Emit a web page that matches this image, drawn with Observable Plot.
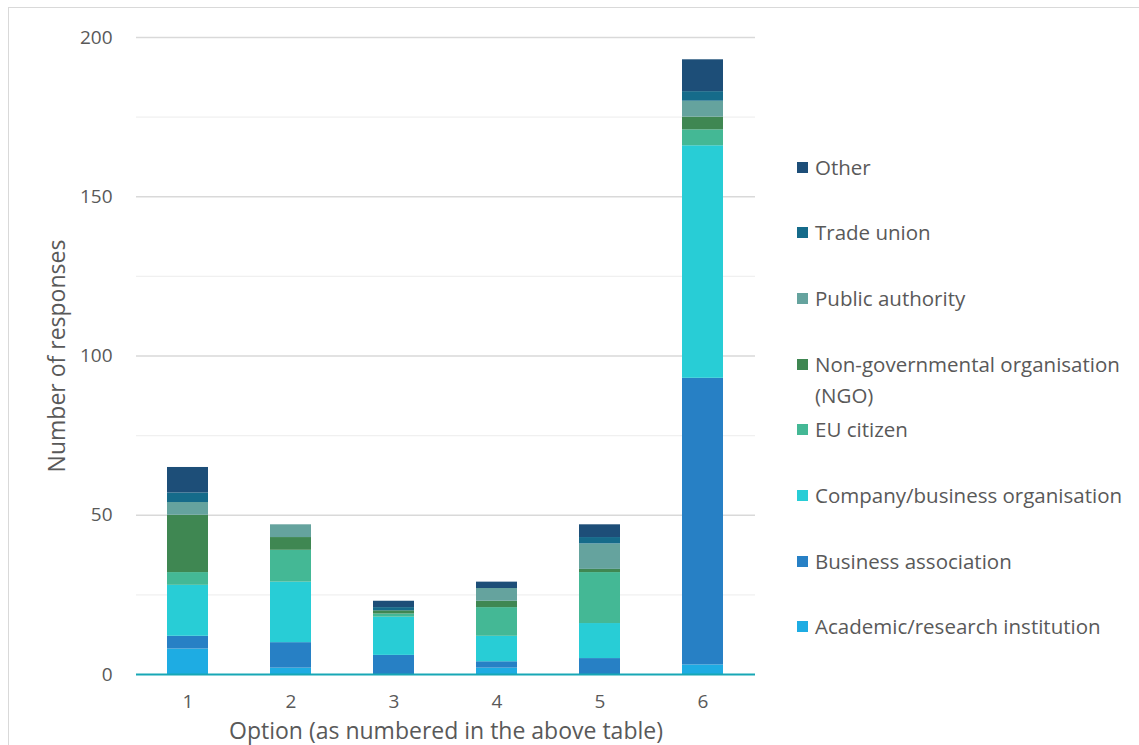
<!DOCTYPE html>
<html><head><meta charset="utf-8">
<script src="https://cdn.jsdelivr.net/npm/d3@7"></script>
<script src="https://cdn.jsdelivr.net/npm/@observablehq/plot@0.6"></script>
<style>
body{margin:0;background:#fff;font-family:"Open Sans",sans-serif;}
#wrap{position:relative;width:1139px;height:745px;overflow:hidden;background:#fff}
#frame{position:absolute;left:8px;top:7px;width:1140px;height:760px;border:1px solid #d9d9d9;box-sizing:border-box}
#chart{position:absolute;left:0;top:0}
#legend{position:absolute;left:797px;top:0;width:340px;height:745px}
.item{position:absolute;left:0;white-space:nowrap;color:#595959;font-size:20.5px;line-height:31px;display:flex;align-items:flex-start}
.sw{width:11px;height:11px;margin-right:7px;margin-top:10px;flex:none}
</style></head>
<body><div id="wrap"><div id="frame"></div><div id="chart"></div><div id="legend"></div></div>
<script>
const options = ["1","2","3","4","5","6"];
const categories = ["Academic/research institution","Business association","Company/business organisation","EU citizen","Non-governmental organisation (NGO)","Public authority","Trade union","Other"];
const colors = ["#1eace3","#2780c5","#28cdd6","#44b895","#3f8752","#65a39e","#156b8a","#1d4e78"];
const academic = [8,2,0,2,0,3];
const business = [4,8,6,2,5,90];
const company = [16,19,12,8,11,73];
const euCitizen = [4,10,1,9,16,5];
const ngo = [18,4,1,2,1,4];
const publicAuthority = [4,4,0,4,8,5];
const tradeUnion = [3,0,1,0,2,3];
const other = [8,0,2,2,4,10];
const majorTicks = [0,50,100,150,200];
const minorTicks = [25,75,125,175];

const series = [academic,business,company,euCitizen,ngo,publicAuthority,tradeUnion,other];
const rows = [];
categories.forEach((c,i)=>options.forEach((o,j)=>rows.push({option:o,category:c,value:series[i][j]})));

const chart = Plot.plot({
  width:1139, height:745,
  marginLeft:136, marginRight:384, marginTop:37, marginBottom:71,
  style:{fontFamily:"'Open Sans', sans-serif", fontSize:"19px", color:"#595959", background:"transparent"},
  x:{domain:options, paddingInner:0.6, paddingOuter:0.3},
  y:{domain:[0,200]},
  color:{domain:categories, range:colors},
  marks:[
    Plot.ruleY(minorTicks,{stroke:"#f0f0f0", strokeWidth:1.3}),
    Plot.ruleY(majorTicks.slice(1),{stroke:"#d9d9d9", strokeWidth:1.3}),
    Plot.barY(rows,{x:"option", y:"value", fill:"category"}),
    Plot.ruleY([0],{stroke:"#17a7b5", strokeWidth:2}),
    Plot.axisY({ticks:majorTicks, tickSize:0, tickPadding:24, label:null, fontSize:19, fill:"#595959"}),
    Plot.axisX({tickSize:0, tickPadding:20, label:null, fontSize:19, fill:"#595959"}),
    Plot.text(["Number of responses"],{frameAnchor:"left", dx:-79, rotate:-90, textAnchor:"middle", lineAnchor:"middle", fontSize:23, fill:"#595959"}),
    Plot.text(["Option (as numbered in the above table)"],{frameAnchor:"bottom", dy:57, textAnchor:"middle", lineAnchor:"middle", fontSize:23, fill:"#595959"})
  ]
});
document.getElementById("chart").appendChild(chart);

const legend = document.getElementById("legend");
const labels = ["Other","Trade union","Public authority","Non-governmental organisation<br>(NGO)","EU citizen","Company/business organisation","Business association","Academic/research institution"];
const legendColors = colors.slice().reverse();
labels.forEach((l,i)=>{
  const d = document.createElement("div");
  d.className="item";
  d.style.top = (167 + i*65.7 - 15.5) + "px";
  d.innerHTML = `<span class="sw" style="background:${legendColors[i]}"></span><span>${l}</span>`;
  legend.appendChild(d);
});
</script>
</body></html>
